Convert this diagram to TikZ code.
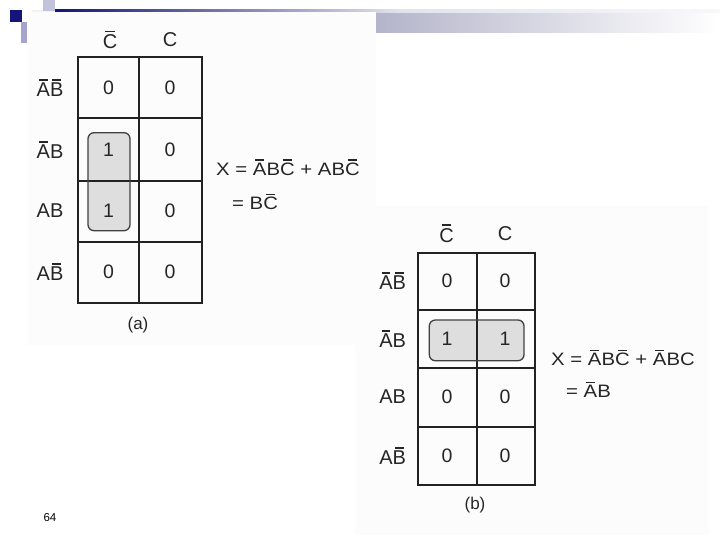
\documentclass[tikz,border=0pt]{standalone}
\usepackage{fontspec}
\setmainfont{Liberation Sans}
\newfontfamily\eqfont[FakeStretch=1.13]{Liberation Sans}
\newsavebox\kbox
\newcommand\kbar[1]{\leavevmode\sbox\kbox{#1}\rlap{\hbox to \wd\kbox{\hss\raisebox{\dimexpr\ht\kbox+0.12em\relax}{\rule{0.65\wd\kbox}{0.075em}}\hss}}\usebox\kbox}
\definecolor{navy}{HTML}{14147A}
\definecolor{lav}{HTML}{B8B8D4}
\definecolor{strip}{HTML}{B4B4CA}
\definecolor{lavdark}{HTML}{A4A4CC}
\definecolor{gridc}{HTML}{222222}
\tikzset{
  lab/.style={inner sep=0pt, font=\fontsize{20}{24}\selectfont, text=black!85},
  val/.style={inner sep=0pt, font=\fontsize{19.5}{22}\selectfont, text=black!85},
  eq/.style={inner sep=0pt, anchor=west, font=\eqfont\fontsize{18}{22}\selectfont, text=black!85},
  captxt/.style={inner sep=0pt, font=\fontsize{17}{20}\selectfont, text=black!85},
  kgrid/.style={draw=gridc, line width=1.7pt},
  loopfill/.style={fill=black!13, rounded corners=6pt},
  loopline/.style={draw=black!75, line width=1.3pt, rounded corners=6pt},
  panel/.style={fill=black!1.2}
}
\begin{document}
\begin{tikzpicture}[x=1pt,y=-1pt]
\useasboundingbox (0,0) rectangle (720,540);
\fill[white] (0,0) rectangle (720,540);
% slide decoration
\shade[left color=strip, right color=white] (376,12) rectangle (720,33);
\fill[white!80!lav] (32,10) rectangle (55,12);
\shade[left color=navy, right color=white!60!lav] (55,10) rectangle (400,12.2);
\shade[left color=white!60!lav, right color=white!90!lav] (400,10) rectangle (720,12.2);
\fill[navy] (10,10) rectangle (22,22);
\fill[white!15!lav] (43,0) rectangle (55,11);
\fill[lavdark] (21,22) rectangle (27,43);
% photo panels
\fill[panel] (27,12) rectangle (376,345);
\fill[panel] (355,206) rectangle (709,535);

% ---------- K-map (a)
\fill[loopfill] (88,132.7) rectangle (130,230.7);
\draw[kgrid] (78.3,56.7) rectangle (201.7,303.3);
\draw[kgrid] (139,56.7) -- (139,303.3);
\draw[kgrid] (78.3,118.3) -- (201.7,118.3);
\draw[kgrid] (78.3,181) -- (201.7,181);
\draw[kgrid] (78.3,241.7) -- (201.7,241.7);
\draw[loopline] (88,132.7) rectangle (130,230.7);
\node[lab] (ac0) at (110,40) {\kbar{C}};
\node[lab] (ac1) at (170,40) {C};
\node[lab] (ar1) at (50,88) {\kbar{A}\kbar{B}};
\node[lab] (ar2) at (50,150) {\kbar{A}B};
\node[lab] (ar3) at (50,211) {AB};
\node[lab] (ar4) at (50,272) {A\kbar{B}};
\node[val] (a11) at (108.5,88) {0};
\node[val] (a12) at (170,88) {0};
\node[val] (a21) at (108.5,150) {1};
\node[val] (a22) at (170,150) {0};
\node[val] (a31) at (108.5,211) {1};
\node[val] (a32) at (170,211) {0};
\node[val] (a41) at (108.5,272) {0};
\node[val] (a42) at (170,272) {0};
\node[eq] (aeq1) at (216,167.3) {X = \kbar{A}B\kbar{C} + AB\kbar{C}};
\node[eq] (aeq2) at (232,201.7) {= B\kbar{C}};
\node[captxt] (acap) at (138,325) {(a)};

% ---------- K-map (b)
\fill[loopfill] (429.3,320) rectangle (524,360.7);
\draw[kgrid] (418.3,252.7) rectangle (535,485);
\draw[kgrid] (476.7,252.7) -- (476.7,485);
\draw[kgrid] (418.3,310) -- (535,310);
\draw[kgrid] (418.3,368.3) -- (535,368.3);
\draw[kgrid] (418.3,426.7) -- (535,426.7);
\draw[loopline] (429.3,320) rectangle (524,360.7);
\node[lab] (bc0) at (446.7,233.3) {\kbar{C}};
\node[lab] (bc1) at (505,233.3) {C};
\node[lab] (br1) at (392.7,281) {\kbar{A}\kbar{B}};
\node[lab] (br2) at (392.7,339) {\kbar{A}B};
\node[lab] (br3) at (392.7,397) {AB};
\node[lab] (br4) at (392.7,456) {A\kbar{B}};
\node[val] (b11) at (447,281) {0};
\node[val] (b12) at (505,281) {0};
\node[val] (b21) at (447,339) {1};
\node[val] (b22) at (505,339) {1};
\node[val] (b31) at (447,397) {0};
\node[val] (b32) at (505,397) {0};
\node[val] (b41) at (447,456) {0};
\node[val] (b42) at (505,456) {0};
\node[eq] (beq1) at (551,358) {X = \kbar{A}B\kbar{C} + \kbar{A}BC};
\node[eq] (beq2) at (566,390) {= \kbar{A}B};
\node[captxt] (bcap) at (475,505) {(b)};

\node[inner sep=0pt, font=\fontsize{11.5}{14}\selectfont] (pg) at (50,518) {64};
\end{tikzpicture}
\end{document}
